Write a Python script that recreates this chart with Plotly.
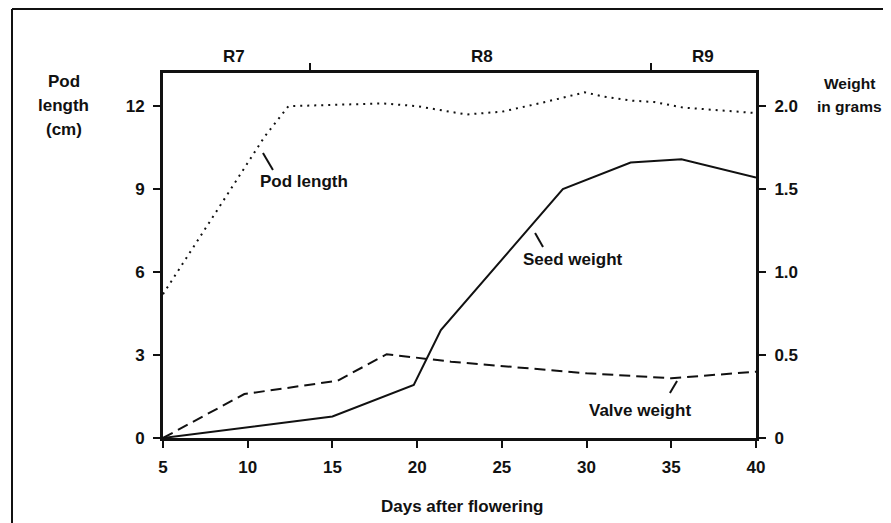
import plotly.graph_objects as go

# ---- data ----
pod_days = [5, 7, 9, 11, 12.4, 15, 18, 20, 22.9, 25, 27.2, 29.9, 31, 32.7, 34, 35.7, 40]
pod_len = [5.2, 7.1, 9.0, 10.9, 12.0, 12.05, 12.1, 12.0, 11.7, 11.8, 12.1, 12.5, 12.35, 12.2, 12.15, 11.95, 11.75]

seed_days = [5, 10, 15, 19.8, 21.4, 28.6, 32.6, 35.6, 40]
seed_wt = [0, 0.065, 0.13, 0.32, 0.65, 1.5, 1.66, 1.68, 1.57]

valve_days = [5, 9.8, 15.3, 18.2, 22, 30, 35, 40]
valve_wt = [0, 0.265, 0.345, 0.505, 0.46, 0.39, 0.36, 0.40]

x_ticks = [5, 10, 15, 20, 25, 30, 35, 40]
left_ticks = [0, 3, 6, 9, 12]
right_ticks = [0, 0.5, 1.0, 1.5, 2.0]
right_tick_labels = ["0", "0.5", "1.0", "1.5", "2.0"]

stage_names = ["R7", "R8", "R9"]
stage_label_days = [9.2, 23.8, 36.9]
stage_boundaries = [13.7, 33.8]

FONT = "Liberation Sans"
BLACK = "#111111"

fig = go.Figure()
fig.add_trace(go.Scatter(x=pod_days, y=pod_len, mode="lines", yaxis="y",
                         line=dict(color=BLACK, width=2, dash="2px,5px"),
                         showlegend=False, hoverinfo="skip"))
fig.add_trace(go.Scatter(x=seed_days, y=seed_wt, mode="lines", yaxis="y2",
                         line=dict(color=BLACK, width=2),
                         showlegend=False, hoverinfo="skip"))
fig.add_trace(go.Scatter(x=valve_days, y=valve_wt, mode="lines", yaxis="y2",
                         line=dict(color=BLACK, width=2, dash="11px,6px"),
                         showlegend=False, hoverinfo="skip"))
# invisible trace to activate top axis
fig.add_trace(go.Scatter(x=[5, 40], y=[0, 0], xaxis="x2", yaxis="y", mode="lines",
                         line=dict(width=0), showlegend=False, hoverinfo="skip"))

tickfont = dict(family=FONT, size=17, color=BLACK, weight="bold")

# page body has an 8px margin, so the figure is offset by 8px
fig.update_layout(
    width=883, height=515,
    margin=dict(l=155, r=135, t=65, b=85),
    paper_bgcolor="white", plot_bgcolor="white",
    font=dict(family=FONT, color=BLACK),
    xaxis=dict(range=[5, 40], tickvals=x_ticks, ticks="outside", ticklen=7, tickwidth=2,
               tickcolor=BLACK, showline=True, linewidth=3, linecolor=BLACK,
               showgrid=False, zeroline=False, tickfont=tickfont, ticklabelstandoff=5),
    xaxis2=dict(range=[5, 40], overlaying="x", side="top", tickvals=stage_boundaries,
                ticks="outside", ticklen=7, tickwidth=2, tickcolor=BLACK,
                showticklabels=False, showline=True, linewidth=3, linecolor=BLACK,
                showgrid=False, zeroline=False),
    yaxis=dict(range=[0, 13.2], tickvals=left_ticks, ticks="outside", ticklen=7, tickwidth=2,
               tickcolor=BLACK, showline=True, linewidth=3, linecolor=BLACK,
               showgrid=False, zeroline=False, tickfont=tickfont, ticklabelstandoff=5),
    yaxis2=dict(range=[0, 2.2], overlaying="y", side="right", tickvals=right_ticks,
                ticktext=right_tick_labels, ticks="outside", ticklen=7, tickwidth=2,
                tickcolor=BLACK, showline=True, linewidth=3, linecolor=BLACK,
                showgrid=False, zeroline=False, tickfont=tickfont, ticklabelstandoff=5),
)

afont = dict(family=FONT, size=17, color=BLACK, weight="bold")
afont_small = dict(family=FONT, size=15.5, color=BLACK, weight="bold")


def py(p):
    return (438 - p) / 365


def px(p):
    return (p - 163) / 593


def label(x, y, text, xref="paper", yref="paper", font=afont):
    return dict(x=x, y=y, xref=xref, yref=yref, text=text, showarrow=False, font=font,
                xanchor="center", yanchor="middle")


ann = []
for name, d in zip(stage_names, stage_label_days):
    ann.append(label(d, py(57), name, xref="x"))
for txt, yy in [("Pod", 81), ("length", 106), ("(cm)", 129)]:
    ann.append(label(px(64), py(yy), txt))
for txt, yy in [("Weight", 83), ("in grams", 107)]:
    ann.append(label(px(849), py(yy), txt, font=afont_small))
ann.append(label(px(462), py(506), "Days after flowering"))
ann.append(label(13.3, 9.26, "Pod length", xref="x", yref="y"))
ann.append(label(29.2, 6.44, "Seed weight", xref="x", yref="y"))
ann.append(label(33.15, 1.01, "Valve weight", xref="x", yref="y"))
fig.update_layout(annotations=ann)

# leader lines and outer frame
shapes = [
    dict(type="line", xref="x", yref="y", x0=10.9, y0=10.31, x1=11.49, y1=9.69,
         line=dict(color=BLACK, width=2)),
    dict(type="line", xref="x", yref="y", x0=26.96, y0=7.41, x1=27.43, y1=6.91,
         line=dict(color=BLACK, width=2)),
    dict(type="line", xref="x", yref="y", x0=35.34, y0=2.06, x1=34.92, y1=1.63,
         line=dict(color=BLACK, width=2)),
    dict(type="line", xref="paper", yref="paper", x0=px(12), y0=py(9), x1=px(12), y1=py(540),
         line=dict(color=BLACK, width=2)),
    dict(type="line", xref="paper", yref="paper", x0=px(12), y0=py(9), x1=px(900), y1=py(9),
         line=dict(color=BLACK, width=2)),
]
fig.update_layout(shapes=shapes)

fig.write_html("out.html")
